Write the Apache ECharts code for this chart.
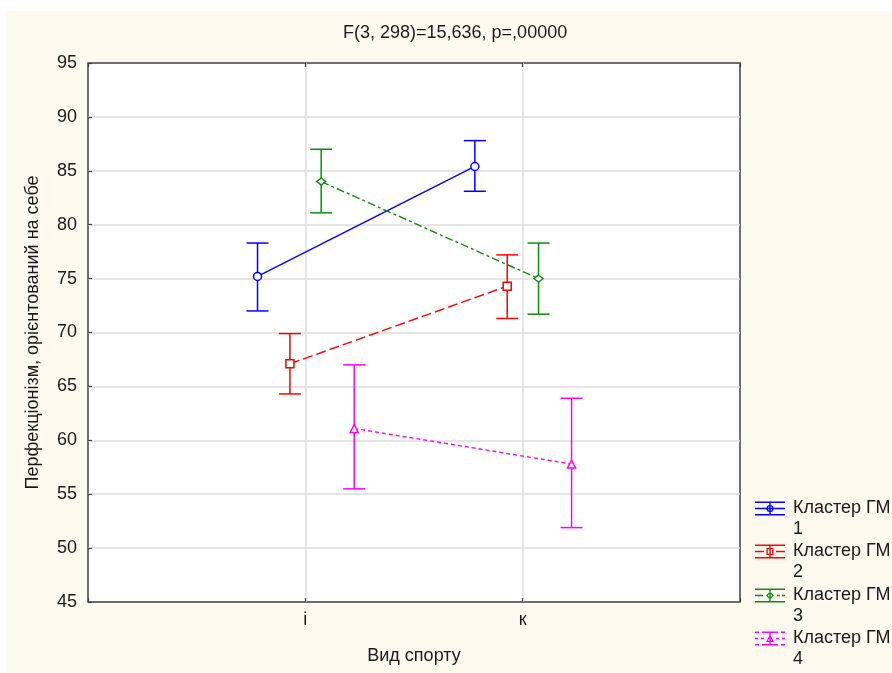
<!DOCTYPE html>
<html>
<head>
<meta charset="utf-8">
<script src="https://cdn.jsdelivr.net/npm/echarts@6/dist/echarts.min.js"></script>
<style>
  html, body { margin: 0; padding: 0; background: #fff; }
  #chart { width: 892px; height: 673px; }
</style>
</head>
<body>
<div id="chart"></div>
<script>
// Sport type categories on the x axis
const categories = ['і', 'к'];
const seriesNames = ['Кластер ГМ 1', 'Кластер ГМ 2', 'Кластер ГМ 3', 'Кластер ГМ 4'];

// Means and confidence limits per cluster (one value per category)
const cluster1Mean = [75.2, 85.4];
const cluster1Low  = [72.0, 83.1];
const cluster1High = [78.3, 87.8];

const cluster2Mean = [67.1, 74.3];
const cluster2Low  = [64.3, 71.3];
const cluster2High = [69.9, 77.2];

const cluster3Mean = [84.0, 75.0];
const cluster3Low  = [81.1, 71.7];
const cluster3High = [87.0, 78.3];

const cluster4Mean = [61.1, 57.8];
const cluster4Low  = [55.5, 51.9];
const cluster4High = [67.0, 63.9];

const yTicks = [45, 50, 55, 60, 65, 70, 75, 80, 85, 90, 95];

const means = [cluster1Mean, cluster2Mean, cluster3Mean, cluster4Mean];
const lows = [cluster1Low, cluster2Low, cluster3Low, cluster4Low];
const highs = [cluster1High, cluster2High, cluster3High, cluster4High];

// Styling
const FONT = "'Liberation Sans', Arial, sans-serif";
const TEXT = '#1a1a1a';
const colors = ['#0000ff', '#ff0000', '#118a11', '#ff00ff'];
const dodge = [-0.22, -0.071, 0.073, 0.225];
const lineTypes = ['solid', [10, 4], [8, 3, 3, 3], [4, 3]];
const markers = ['circle', 'rect', 'diamond', 'triangle'];
const markerSizes = [8, 8, [9, 7], 8];

// Legend glyphs: caps, stem, connecting line and hollow marker
function bars(mid) {
  return 'M0 0H30V1.4H0Z M0 12.6H30V14H0Z M14.3 0H15.7V14H14.3Z ' + mid;
}
const ring = 'M18.6 7A3.6 3.6 0 1 1 11.4 7A3.6 3.6 0 1 1 18.6 7Z M17.3 7A2.3 2.3 0 1 0 12.7 7A2.3 2.3 0 1 0 17.3 7Z';
const box = 'M11.5 3.5H18.5V10.5H11.5Z M12.8 4.8V9.2H17.2V4.8Z';
const dia = 'M15 3L19 7L15 11L11 7Z M15 4.8L12.8 7L15 9.2L17.2 7Z';
const tri = 'M15 3L19 10.5H11Z M15 5.6L12.9 9.3H17.1Z';
const legendIcons = [
  'path://' + bars('M0 6.3H30V7.7H0Z') + ' ' + ring,
  'path://' + bars('M0 6.3H9V7.7H0Z M21 6.3H30V7.7H21Z') + ' ' + box,
  'path://' + bars('M0 6.3H8V7.7H0Z M22 6.3H25V7.7H22Z M27 6.3H30V7.7H27Z') + ' ' + dia,
  'path://M0 0H4V1.4H0Z M7 0H23V1.4H7Z M26 0H30V1.4H26Z M0 12.6H4V14H0Z M7 12.6H23V14H7Z M26 12.6H30V14H26Z M14.3 0H15.7V14H14.3Z M0 6.3H3V7.7H0Z M6 6.3H9V7.7H6Z M21 6.3H24V7.7H21Z M27 6.3H30V7.7H27Z ' + tri
];
const legendTops = [477, 520, 564, 607];

function renderErrorBar(params, api) {
  const x = api.value(0);
  const pLo = api.coord([x, api.value(1)]);
  const pHi = api.coord([x, api.value(2)]);
  const half = 11;
  const style = { stroke: api.visual('color'), lineWidth: 1.5, fill: null };
  return {
    type: 'group',
    children: [
      { type: 'line', shape: { x1: pLo[0], y1: pLo[1], x2: pHi[0], y2: pHi[1] }, style },
      { type: 'line', shape: { x1: pHi[0] - half, y1: pHi[1], x2: pHi[0] + half, y2: pHi[1] }, style },
      { type: 'line', shape: { x1: pLo[0] - half, y1: pLo[1], x2: pLo[0] + half, y2: pLo[1] }, style }
    ]
  };
}

const series = [];
seriesNames.forEach((name, s) => {
  const barData = categories.map((c, i) => [i + 1 + dodge[s], lows[s][i], highs[s][i]]);
  const lineData = categories.map((c, i) => [i + 1 + dodge[s], means[s][i]]);
  series.push({
    name,
    type: 'custom',
    renderItem: renderErrorBar,
    itemStyle: { color: colors[s] },
    encode: { x: 0, y: [1, 2] },
    data: barData,
    z: 2
  });
  series.push({
    name,
    type: 'line',
    data: lineData,
    symbol: markers[s],
    symbolSize: markerSizes[s],
    showSymbol: true,
    lineStyle: { color: colors[s], width: 1.4, type: lineTypes[s] },
    itemStyle: { color: '#ffffff', borderColor: colors[s], borderWidth: 1.5 },
    emphasis: { disabled: true },
    z: 3
  });
});

// Each legend entry: blank spacer line above so the first text line sits beside the glyph
const legends = seriesNames.map((name, s) => ({
  data: [{ name, icon: legendIcons[s] }],
  left: 755,
  top: legendTops[s],
  orient: 'vertical',
  padding: 0,
  itemWidth: 30,
  itemHeight: 14,
  selectedMode: false,
  itemStyle: { color: colors[s], borderWidth: 0 },
  formatter: n => '\n' + n.replace(/ (\d+)$/, '\n$1'),
  textStyle: { fontFamily: FONT, fontSize: 18, lineHeight: 21, color: TEXT, padding: [0, 0, 0, 3] }
}));

const chart = echarts.init(document.getElementById('chart'), null, { renderer: 'canvas' });
chart.setOption({
  animation: false,
  backgroundColor: '#ffffff',
  graphic: [{
    type: 'rect', left: 6, top: 11, z: -100,
    shape: { width: 886, height: 662 },
    style: { fill: '#fffaf0' }
  }],
  title: {
    text: 'F(3, 298)=15,636, p=,00000',
    left: 343, top: 24, padding: 0,
    textStyle: { fontFamily: FONT, fontSize: 18, fontWeight: 'normal', color: TEXT }
  },
  legend: legends,
  grid: {
    left: 88, right: 152, top: 63, bottom: 71,
    show: true, backgroundColor: '#ffffff',
    borderColor: '#404040', borderWidth: 1.5
  },
  xAxis: [{
    type: 'value', min: 0, max: 3, interval: 1,
    name: 'Вид спорту', nameLocation: 'middle', nameGap: 45,
    nameTextStyle: { fontFamily: FONT, fontSize: 18, color: TEXT },
    axisLine: { show: false },
    axisTick: { show: true, inside: true, length: 4, lineStyle: { color: '#404040', width: 1.2 } },
    axisLabel: {
      fontFamily: FONT, fontSize: 18, color: TEXT, margin: 9,
      formatter: v => (v >= 1 && v <= categories.length) ? categories[v - 1] : ''
    },
    splitLine: { show: true, showMinLine: false, showMaxLine: false, lineStyle: { color: '#dcdcdc', width: 1.5 } }
  }, {
    type: 'value', min: 0, max: 3, interval: 1, position: 'top',
    axisLine: { show: false },
    axisTick: { show: true, inside: true, length: 4, lineStyle: { color: '#404040', width: 1.2 } },
    axisLabel: { show: false },
    splitLine: { show: false }
  }],
  yAxis: {
    type: 'value', min: yTicks[0], max: yTicks[yTicks.length - 1], interval: 5,
    name: 'Перфекціонізм, орієнтований на себе', nameLocation: 'middle', nameGap: 46,
    nameTextStyle: { fontFamily: FONT, fontSize: 18, color: TEXT },
    axisLine: { show: false },
    axisTick: { show: true, inside: true, length: 4, lineStyle: { color: '#404040', width: 1.2 } },
    axisLabel: { fontFamily: FONT, fontSize: 18, color: TEXT, margin: 11 },
    splitLine: { show: true, showMinLine: false, showMaxLine: false, lineStyle: { color: '#dcdcdc', width: 1.5 } }
  },
  series
});
</script>
</body>
</html>
